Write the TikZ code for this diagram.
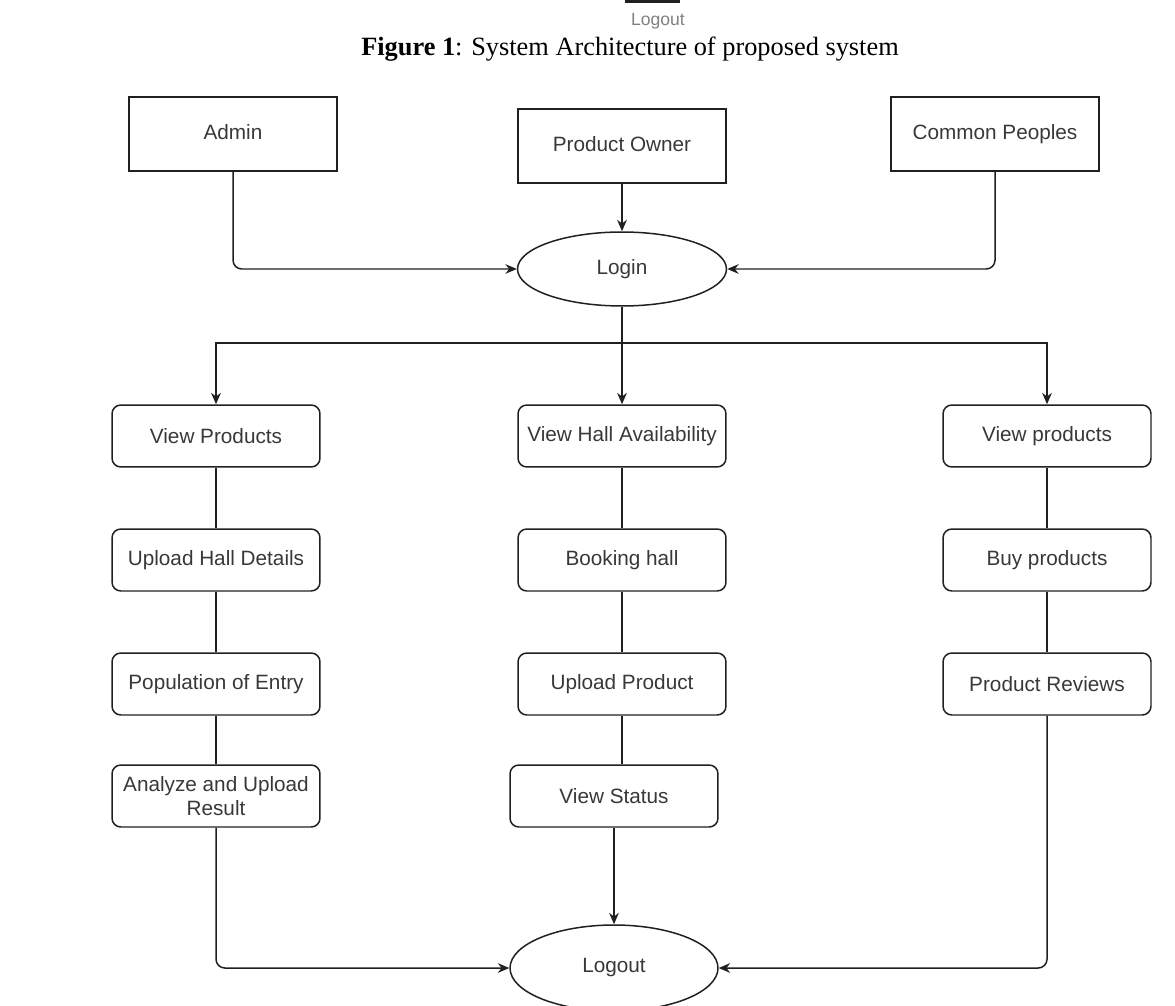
\documentclass[tikz,border=0pt]{standalone}
\usepackage{fontspec}
\setmainfont{Liberation Sans}
\newfontfamily\capfont{Liberation Serif}
\usetikzlibrary{arrows.meta,shapes.geometric}
\definecolor{txtgray}{HTML}{383838}
\definecolor{linegray}{HTML}{202020}

\begin{document}
\begin{tikzpicture}[x=0.02cm, y=-0.02cm, >={Stealth[length=6.5pt,width=5.5pt]},
        every node/.style={font=\fontsize{11.8}{13.5}\selectfont, text=txtgray},
        actor/.style={draw=linegray, line width=0.85pt, minimum width=4.16cm, minimum height=1.48cm, text height=1.6ex, text depth=0.45ex},
        task/.style={draw=linegray, line width=0.85pt, rounded corners=5pt, minimum width=4.16cm, minimum height=1.24cm, align=center},
        oval/.style={draw=linegray, ellipse, line width=0.85pt, minimum width=4.18cm, minimum height=1.48cm},
        link/.style={draw=linegray, line width=0.85pt}]
        \clip (0,0) rectangle (1175,1006);
        \useasboundingbox (0,0) rectangle (1175,1006);
        % end of the figure above
        \draw[line width=2.4pt, linegray] (625,1) -- (680,1);
        \node[font=\fontsize{10}{12}\selectfont, text=gray] (oldlogout) at (658,21) {Logout};
        \node[font=\capfont\fontsize{15}{18}\selectfont, text=black] (caption) at (630,49) {\textbf{Figure 1}: System Architecture of proposed system};
        % users
        \node[actor] (admin) at (233,134) {Admin};
        \node[actor] (owner) at (622,146) {Product Owner};
        \node[actor] (people) at (995,134) {Common Peoples};
        \node[oval] (login) at (622,269) {Login};
        \draw[link,->,rounded corners=5pt] (admin) |- (login);
        \draw[link,->,rounded corners=5pt] (people) |- (login);
        \draw[link,->] (owner)--(login);
        % admin side
        \node[task] (vp) at (216,436) {View Products};
        \node[task] (uh) at (216,560) {Upload Hall Details};
        \node[task] (pe) at (216,684) {Population of Entry};
        \node[task] (ar) at (216,796) {Analyze and Upload\\Result};
        % product owner side
        \node[task] (vh) at (622,436) {View Hall Availability};
        \node[task] (bh) at (622,560) {Booking hall};
        \node[task] (up) at (622,684) {Upload Product};
        \node[task] (vs) at (614,796) {View Status};
        % common people side
        \node[task] (vpr) at (1047,436) {View products};
        \node[task] (bp) at (1047,560) {Buy products};
        \node[task] (pr) at (1047,684) {Product Reviews};
        \node[oval, minimum width=4.16cm, minimum height=1.72cm] (logout) at (614,968) {Logout};
        \coordinate (hub) at (622,343);
        \draw[link,->] (login)--(vh);
        \draw[link,->] (hub) -| (vp);
        \draw[link,->] (hub) -| (vpr);
        \draw[link] (vp)--(uh)--(pe)--(ar);
        \draw[link] (vh)--(bh)--(up);
        \draw[link] (up)--(up |- vs.north);
        \draw[link] (vpr)--(bp)--(pr);
        \draw[link,->] (vs)--(logout);
        \draw[link,->,rounded corners=5pt] (ar) |- (logout);
        \draw[link,->,rounded corners=5pt] (pr) |- (logout);
    \end{tikzpicture}
\end{document}
